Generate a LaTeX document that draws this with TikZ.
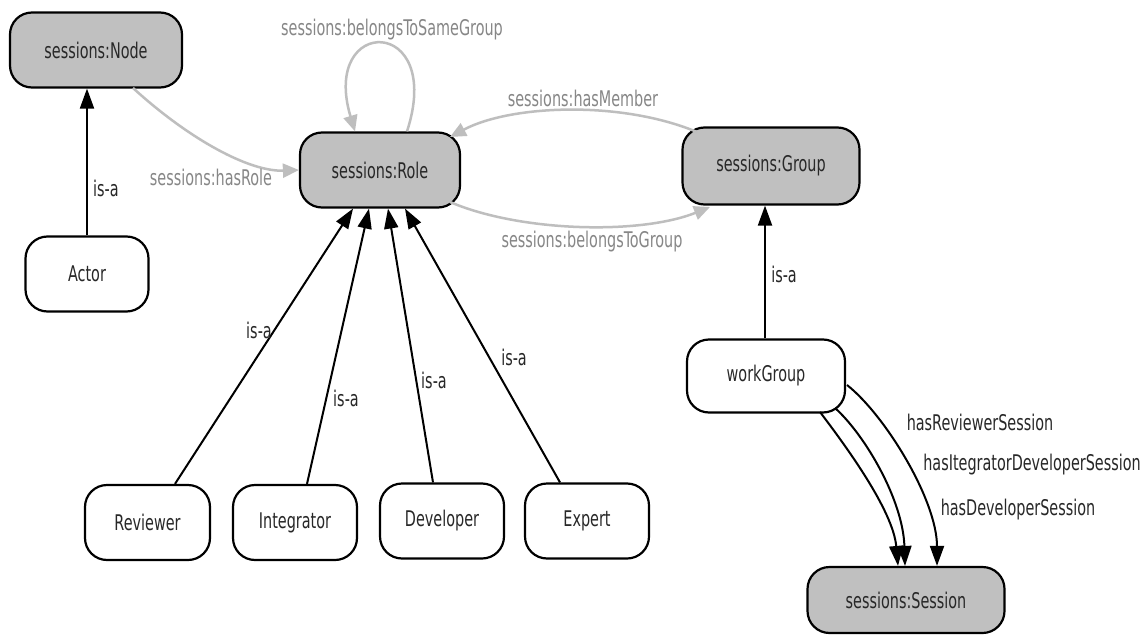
\documentclass[tikz,border=0pt]{standalone}
\usepackage{fontspec}
\setmainfont{DejaVu Sans Condensed}
\usepackage{graphicx}
\usetikzlibrary{arrows.meta,calc}
\definecolor{nodegray}{RGB}{192,192,192}
\definecolor{edgegray}{RGB}{190,190,190}
\definecolor{labgray}{RGB}{135,135,135}
\definecolor{txtcol}{RGB}{40,40,40}
\newcommand{\tx}[1]{\scalebox{1}[1.35]{#1}}
\begin{document}
\begin{tikzpicture}[x=1pt,y=-1pt,
  basebox/.style={draw=black, line width=2.2pt, rounded corners=22pt, inner sep=0pt,
    font=\fontsize{16}{18}\selectfont, text=txtcol},
  classbox/.style={basebox, fill=nodegray},
  indbox/.style={basebox, fill=white},
  isa/.style={draw=black, line width=2pt, -{Triangle[length=20pt,width=14pt]}},
  rel/.style={draw=edgegray, line width=2.5pt, -{Triangle[length=16pt,width=14pt]}},
  isalab/.style={font=\fontsize{16}{18}\selectfont, text=txtcol, inner sep=0pt},
  rellab/.style={font=\fontsize{16}{18}\selectfont, text=labgray, inner sep=0pt}
]
\useasboundingbox[fill=white] (0,0) rectangle (1147,639);

% nodes
\node[classbox, minimum width=172pt, minimum height=75pt] (Node) at (96,50) {\tx{sessions:Node}};
\node[classbox, minimum width=160pt, minimum height=75pt] (Role) at (380,170) {\tx{sessions:Role}};
\node[classbox, minimum width=177pt, minimum height=77pt] (Group) at (771,166) {\tx{sessions:Group}};
\node[indbox, minimum width=123pt, minimum height=75pt] (Actor) at (87,274) {\tx{Actor}};
\node[indbox, minimum width=158pt, minimum height=73pt] (workGroup) at (766,376) {\tx{workGroup}};
\node[indbox, minimum width=125pt, minimum height=75pt] (Reviewer) at (147.5,522.5) {\tx{Reviewer}};
\node[indbox, minimum width=124pt, minimum height=75pt] (Integrator) at (295,522.5) {\tx{Integrator}};
\node[indbox, minimum width=124pt, minimum height=75pt] (Developer) at (442,521) {\tx{Developer}};
\node[indbox, minimum width=124pt, minimum height=75pt] (Expert) at (587,521) {\tx{Expert}};
\node[classbox, minimum width=197pt, minimum height=66pt] (Session) at (906,600) {\tx{sessions:Session}};

% is-a edges
\draw[isa] (Actor.north) -- (Actor.north |- Node.south)
  node[isalab] at (106,188) {\tx{is-a}};
\draw[isa] ($(Reviewer.north)+(27.5,0)$) -- ($(Role.south)+(-27,0)$)
  node[isalab] at (259,330) {\tx{is-a}};
\draw[isa] ($(Integrator.north)+(12,0)$) -- ($(Role.south)+(-11,0)$)
  node[isalab] at (346,398) {\tx{is-a}};
\draw[isa] ($(Developer.north)+(-9,0)$) -- ($(Role.south)+(8,0)$)
  node[isalab] at (434,380) {\tx{is-a}};
\draw[isa] ($(Expert.north)+(-27,0)$) -- ($(Role.south)+(25,0)$)
  node[isalab] at (514,357) {\tx{is-a}};
\draw[isa] ($(workGroup.north)+(-1,0)$) -- ($(workGroup.north |- Group.south)+(-1,0)$)
  node[isalab] at (784,274) {\tx{is-a}};

% workGroup -> Session
\draw[isa] ($(workGroup.center)+(81,9)$) .. controls (885,415) and (937,500) .. ($(Session.north)+(31,0)$)
  node[isalab] at (980,422) {\tx{hasReviewerSession}};
\draw[isa] ($(workGroup.center)+(69,32)$) .. controls (865,435) and (903,500) .. ($(Session.north)+(-1,0)$)
  node[isalab] at (1032,465) {\tx{hasItegratorDeveloperSession}};
\draw[isa] ($(workGroup.center)+(54,36)$) .. controls (845,445) and (893,510) .. ($(Session.north)+(-8,0)$)
  node[isalab] at (1018,510) {\tx{hasDeveloperSession}};

% gray relation edges
\draw[rel] ($(Node.center)+(37,38)$) .. controls (190,140) and (250,172) .. (Role.west)
  node[rellab] at (211,177) {\tx{sessions:hasRole}};
\draw[rel] ($(Role.north)+(27,0)$) .. controls (445,15) and (320,15) .. ($(Role.north)+(-25,0)$)
  node[rellab] at (392,30) {\tx{sessions:belongsToSameGroup}};
\draw[rel] ($(Group.center)+(-74,-34)$) .. controls (620,100) and (510,105) .. ($(Role.center)+(70,-33)$)
  node[rellab] at (583,98) {\tx{sessions:hasMember}};
\draw[rel] ($(Role.center)+(70,32)$) .. controls (520,232) and (640,235) .. ($(Group.center)+(-61,41)$)
  node[rellab] at (592,242) {\tx{sessions:belongsToGroup}};
\end{tikzpicture}
\end{document}
